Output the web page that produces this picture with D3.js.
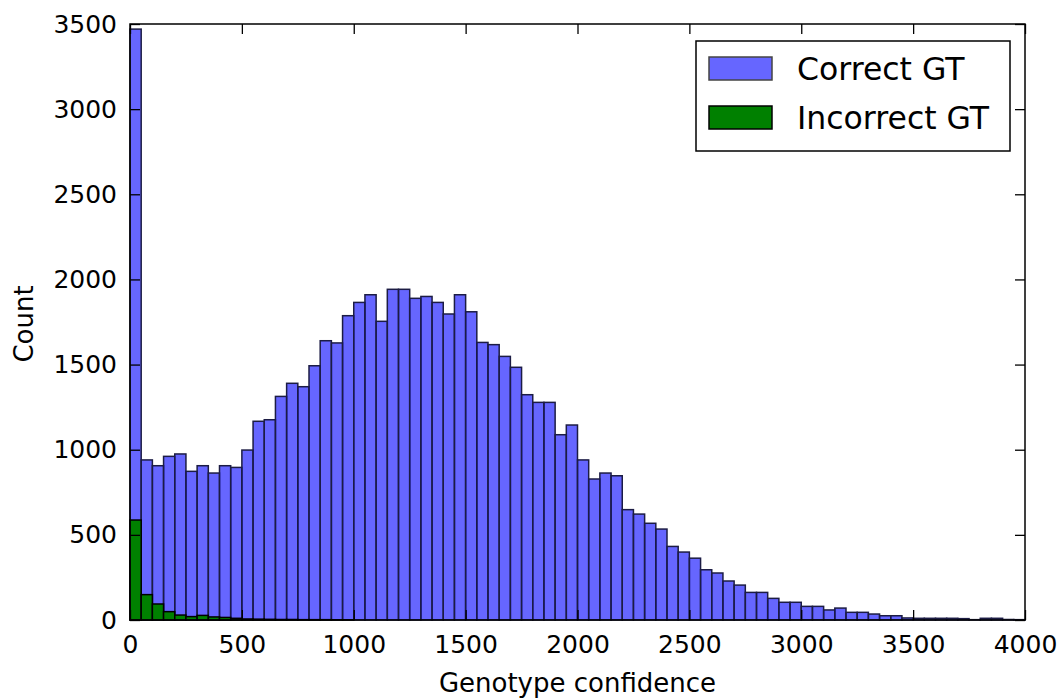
<!DOCTYPE html>
<html>
<head>
<meta charset="utf-8">
<script src="https://cdn.jsdelivr.net/npm/d3@7"></script>
<style>
  body { margin: 0; background: #fff; }
  text { font-family: "DejaVu Sans", sans-serif; fill: #000; }
</style>
</head>
<body>
<div id="hist-chart"></div>
<script>
// bin left edges (width 50)
var binStarts = [0, 50, 100, 150, 200, 250, 300, 350, 400, 450,
  500, 550, 600, 650, 700, 750, 800, 850, 900, 950,
  1000, 1050, 1100, 1150, 1200, 1250, 1300, 1350, 1400, 1450,
  1500, 1550, 1600, 1650, 1700, 1750, 1800, 1850, 1900, 1950,
  2000, 2050, 2100, 2150, 2200, 2250, 2300, 2350, 2400, 2450,
  2500, 2550, 2600, 2650, 2700, 2750, 2800, 2850, 2900, 2950,
  3000, 3050, 3100, 3150, 3200, 3250, 3300, 3350, 3400, 3450,
  3500, 3550, 3600, 3650, 3700, 3750, 3800, 3850, 3900, 3950];
var binWidth = 50;

var correctCounts = [3470, 940, 906, 961, 975, 873, 906, 863, 906, 896,
  998, 1167, 1176, 1313, 1390, 1370, 1493, 1640, 1627, 1787,
  1865, 1910, 1754, 1942, 1942, 1889, 1900, 1865, 1797, 1910,
  1810, 1630, 1617, 1548, 1484, 1323, 1278, 1278, 1088, 1145,
  940, 828, 863, 847, 648, 622, 568, 534, 432, 399,
  363, 295, 276, 229, 205, 162, 162, 127, 104, 104,
  80, 80, 59, 70, 45, 45, 35, 25, 25, 12,
  10, 10, 10, 10, 8, 2, 10, 10, 3, 2];

var incorrectCounts = [587, 149, 94, 49, 29, 20, 27, 18, 15, 10,
  6, 5, 4, 3, 3, 2, 2, 2, 1, 1,
  0, 0, 0, 0, 0, 0, 0, 0, 0, 0,
  0, 0, 0, 0, 0, 0, 0, 0, 0, 0,
  0, 0, 0, 0, 0, 0, 0, 0, 0, 0,
  0, 0, 0, 0, 0, 0, 0, 0, 0, 0,
  0, 0, 0, 0, 0, 0, 0, 0, 0, 0,
  0, 0, 0, 0, 0, 0, 0, 0, 0, 0];

var xTicks = [0, 500, 1000, 1500, 2000, 2500, 3000, 3500, 4000];
var yTicks = [0, 500, 1000, 1500, 2000, 2500, 3000, 3500];
var seriesNames = ["Correct GT", "Incorrect GT"];

var svg = d3.select("#hist-chart").append("svg")
            .attr("width", 1060)
            .attr("height", 698);

var margin = {top: 24, right: 35, bottom: 78, left: 130};
var width = 1060 - margin.left - margin.right;
var height = 698 - margin.top - margin.bottom;

var x = d3.scaleLinear().domain([0, 4000]).range([0, width]);
var y = d3.scaleLinear().domain([0, 3500]).range([height, 0]);

var g = svg.append("g")
           .attr("transform", "translate(" + margin.left + "," + margin.top + ")");

function drawBars(counts, cls, fill, fillOp, stroke) {
  g.append("g").attr("class", cls)
    .selectAll("rect")
    .data(counts)
    .enter().append("rect")
      .attr("x", function(d, i) { return x(binStarts[i]); })
      .attr("width", function(d, i) { return x(binStarts[i] + binWidth) - x(binStarts[i]); })
      .attr("y", function(d) { return y(d); })
      .attr("height", function(d) { return y(0) - y(d); })
      .attr("fill", fill)
      .attr("fill-opacity", fillOp)
      .attr("stroke", stroke)
      .attr("stroke-width", 1.5);
}

//-------------------BARS----------------------------------------------------------
drawBars(correctCounts, "correct", "blue", 0.6, "#1c1c44");
drawBars(incorrectCounts, "incorrect", "green", 1, "#000");

//-------------------AXES (ticks point inward, on all four sides)------------------
var fontSize = 25;
var fmt = d3.format("d");

var xAxis = g.append("g")
    .attr("transform", "translate(0," + height + ")")
    .call(d3.axisBottom(x).tickValues(xTicks).tickSize(-10).tickPadding(15).tickFormat(fmt));

var yAxis = g.append("g")
    .call(d3.axisLeft(y).tickValues(yTicks).tickSize(-10).tickPadding(13).tickFormat(fmt));

g.append("g")
    .call(d3.axisTop(x).tickValues(xTicks).tickSize(-10).tickFormat(""));

g.append("g")
    .attr("transform", "translate(" + width + ",0)")
    .call(d3.axisRight(y).tickValues(yTicks).tickSize(-10).tickFormat(""));

g.selectAll(".domain").remove();
g.selectAll(".tick line").attr("stroke", "#000").attr("stroke-width", 1.3);
g.selectAll(".tick text")
    .style("font-family", "'DejaVu Sans', sans-serif")
    .style("font-size", fontSize + "px")
    .attr("fill", "#000");

// frame
g.append("rect")
    .attr("width", width)
    .attr("height", height)
    .attr("fill", "none")
    .attr("stroke", "#000")
    .attr("stroke-width", 1.5);

// axis labels
g.append("text")
    .attr("text-anchor", "middle")
    .attr("x", width / 2)
    .attr("y", height + 72)
    .style("font-size", "26px")
    .text("Genotype confidence");

g.append("text")
    .attr("text-anchor", "middle")
    .attr("transform", "translate(" + (33 - margin.left) + "," + (height / 2 + 2) + ")rotate(-90)")
    .style("font-size", "26px")
    .text("Count");

//-------------------LEGEND---------------------------------------------------------
var legend = svg.append("g").attr("transform", "translate(696,41)");

legend.append("rect")
    .attr("width", 314)
    .attr("height", 110)
    .attr("fill", "#fff")
    .attr("stroke", "#000")
    .attr("stroke-width", 1.5);

var legendFills = [
  {fill: "blue", fillOp: 0.6, stroke: "#444"},
  {fill: "green", fillOp: 1, stroke: "#000"}
];

seriesNames.forEach(function(name, i) {
  var row = legend.append("g").attr("transform", "translate(0," + (i * 49) + ")");
  row.append("rect")
      .attr("x", 13)
      .attr("y", 16)
      .attr("width", 63)
      .attr("height", 23)
      .attr("fill", legendFills[i].fill)
      .attr("fill-opacity", legendFills[i].fillOp)
      .attr("stroke", legendFills[i].stroke)
      .attr("stroke-width", 1.5);
  row.append("text")
      .attr("x", 101)
      .attr("y", 39)
      .style("font-size", "31.5px")
      .text(name);
});
</script>
</body>
</html>
